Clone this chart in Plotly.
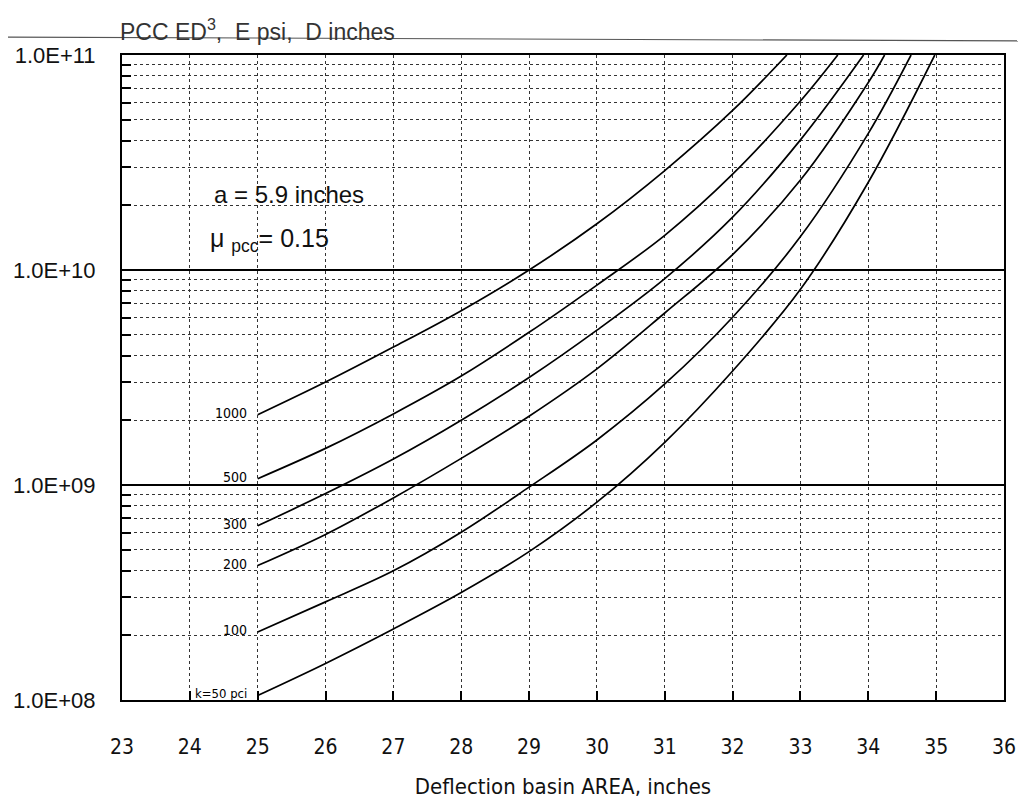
import math
import plotly.graph_objects as go

# ---- data ----
k_labels = ["1000", "500", "300", "200", "100", "k=50 pci"]

x_k1000 = [25, 26, 27, 28, 29, 30, 31, 32, 32.8]
y_k1000 = [2.12e9, 3.01e9, 4.38e9, 6.47e9, 1.0e10, 1.64e10, 2.90e10, 5.52e10, 1.0e11]

x_k500 = [25, 26, 27, 28, 29, 30, 31, 32, 33, 33.55]
y_k500 = [1.07e9, 1.48e9, 2.14e9, 3.21e9, 5.13e9, 8.51e9, 1.45e10, 2.79e10, 6.11e10, 1.0e11]

x_k300 = [25, 26, 27, 28, 29, 30, 31, 32, 33, 33.93]
y_k300 = [6.46e8, 9.12e8, 1.32e9, 2.00e9, 3.16e9, 5.25e9, 9.12e9, 1.76e10, 4.03e10, 1.0e11]

x_k200 = [25, 26, 27, 28, 29, 30, 31, 32, 33, 34, 34.24]
y_k200 = [4.22e8, 5.89e8, 8.71e8, 1.33e9, 2.09e9, 3.47e9, 6.31e9, 1.18e10, 2.62e10, 7.45e10, 1.0e11]

x_k100 = [25, 26, 27, 28, 29, 30, 31, 32, 33, 34, 34.63]
y_k100 = [2.07e8, 2.86e8, 3.99e8, 6.03e8, 9.77e8, 1.62e9, 2.95e9, 6.03e9, 1.43e10, 4.32e10, 1.0e11]

x_k50 = [25, 26, 27, 28, 29, 30, 31, 32, 33, 34, 34.98]
y_k50 = [1.05e8, 1.48e8, 2.14e8, 3.16e8, 4.90e8, 8.32e8, 1.58e9, 3.39e9, 8.13e9, 2.56e10, 1.0e11]

x_ticks = list(range(23, 37))
y_major = [1e8, 1e9, 1e10, 1e11]
y_major_text = ["1.0E+08", "1.0E+09", "1.0E+10", "1.0E+11"]
y_minor = [m * 10 ** e for e in (8, 9, 10) for m in range(2, 10)]

series = [
    (x_k1000, y_k1000), (x_k500, y_k500), (x_k300, y_k300),
    (x_k200, y_k200), (x_k100, y_k100), (x_k50, y_k50),
]

fig = go.Figure()
for (xs, ys), lab in zip(series, k_labels):
    fig.add_trace(go.Scatter(
        x=xs, y=ys, mode="lines", name=lab,
        line=dict(color="black", width=1.7, shape="spline", smoothing=1.0),
        showlegend=False, hoverinfo="skip",
    ))
    # annotation coordinates on a log axis are given in log10 units
    fig.add_annotation(
        x=xs[0], y=math.log10(ys[0]), text=lab, showarrow=False,
        xanchor="right", yanchor="middle", xshift=-9, yshift=2,
        font=dict(family="DejaVu Sans Condensed, Liberation Sans",
                  size=14 if lab != "k=50 pci" else 13, color="black"),
    )

BLK = "black"
fig.update_xaxes(
    range=[23, 36], tickvals=x_ticks, ticktext=[str(v) for v in x_ticks],
    ticks="inside", ticklen=9, tickcolor=BLK, tickwidth=1.5,
    showgrid=True, gridcolor="#333", griddash="dot", gridwidth=1.3,
    showline=True, mirror=True, linecolor=BLK, linewidth=2,
    zeroline=False, ticklabelstandoff=27, automargin=False,
    tickfont=dict(family="DejaVu Sans Condensed, Liberation Sans", size=21, color="#111"),
    title=dict(text="Deflection basin AREA, inches", standoff=20,
               font=dict(family="DejaVu Sans Condensed, Liberation Sans", size=22, color="#111")),
)
fig.update_yaxes(
    type="log", range=[8, 11], tickvals=y_major, ticktext=y_major_text,
    ticks="", showgrid=True, gridcolor=BLK, gridwidth=1.5,
    showline=True, mirror=True, linecolor=BLK, linewidth=2,
    zeroline=False, ticklabelstandoff=20, automargin=False,
    tickfont=dict(family="Liberation Sans, Arial", size=22, color="#111"),
    minor=dict(tickmode="array", tickvals=y_minor, ticks="inside", ticklen=9,
               tickcolor=BLK, tickwidth=1.5,
               showgrid=True, gridcolor="#333", griddash="dot", gridwidth=1.3),
)

# texts in the plot
fig.add_annotation(xref="paper", yref="paper", x=0.102, y=0.783, xanchor="left",
                   yanchor="middle", showarrow=False, text="a = 5.9 inches",
                   font=dict(family="Liberation Sans, Arial", size=24, color="#111"))
fig.add_annotation(xref="paper", yref="paper", x=0.098, y=0.713, xanchor="left",
                   yanchor="middle", showarrow=False, text="μ <sub>pcc</sub>= 0.15",
                   font=dict(family="Liberation Sans, Arial", size=25, color="#111"))
# chart title at top left
fig.add_annotation(xref="paper", yref="paper", x=-0.005, y=1.039, xanchor="left",
                   yanchor="middle", showarrow=False,
                   text="PCC ED<sup>3</sup>,  E psi,  D inches",
                   font=dict(family="Liberation Sans, Arial", size=23, color="#333"))
# page rule line crossing the title
fig.add_shape(type="line", xref="paper", yref="paper",
              x0=-0.1383, y0=1.0279, x1=1.0249, y1=1.0217,
              line=dict(color="#555", width=1.2))

fig.update_layout(
    width=1018, height=791,
    margin=dict(l=114, r=22, t=47, b=99),
    paper_bgcolor="white", plot_bgcolor="white",
)

fig.write_html("out.html")
